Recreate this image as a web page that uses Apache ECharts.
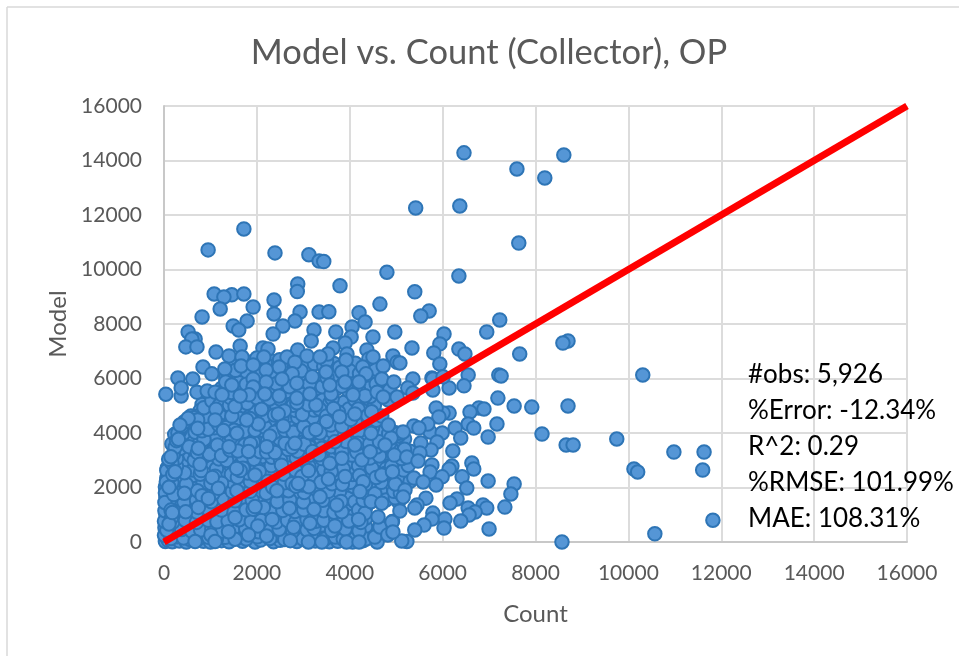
<!DOCTYPE html>
<html><head><meta charset="utf-8">
<style>html,body{margin:0;padding:0;background:#fff}#c{width:959px;height:656px}</style>
<script src="https://cdn.jsdelivr.net/npm/echarts@6/dist/echarts.min.js"></script>
</head><body><div id="c"></div>
<script>
const chartTitle = "Model vs. Count (Collector), OP";
const xAxisTitle = "Count";
const yAxisTitle = "Model";
const statLines = ["#obs: 5,926", "%Error: -12.34%", "R^2: 0.29", "%RMSE: 101.99%", "MAE: 108.31%"];
const parityLine = [[0,0],[16000,16000]];

const denseBottom = [
[30,20],[90,60],[180,10],[330,40],[480,0],[560,90],[850,30],[1000,0],[1240,50],[1400,10],[1690,30],[1960,0],[2080,70],[2360,10],[2500,60],[2860,20],[3260,40],[3560,10],[3740,30],[4060,0],[4290,50],
[10,250],[130,310],[290,190],[470,280],[700,340],[880,210],[1180,300],[1320,170],[1640,350],[1900,300],[2160,420],[2420,260],[2620,340],[2950,240],[3320,310],[3500,230],[3850,350],[4070,220],[4330,290],
[20,520],[70,820],[230,560],[360,730],[560,620],[810,580],[1050,690],[1230,540],[1480,610],[1720,720],[2200,640],[2540,680],[2660,570],[2960,530],[3390,620],[3550,730],[3820,600],[4040,670],[4340,560],
[40,1000],[310,970],[620,900],[820,1020],[1120,960],[1380,880],[1690,1040],[1850,910],[2090,1000],[2490,940],[2880,890],[3050,1010],[3340,930],[3600,1020],[3920,950],[4100,1030],[4350,880],
[60,1340],[290,1270],[600,1410],[890,1300],[1100,1210],[1320,1380],[1640,1280],[1790,1440],[2280,1420],[2510,1290],[2850,1400],[3000,1290],[3500,1350],[3850,1240],[4050,1410],[4340,1260],
[40,1640],[240,1560],[570,1620],[790,1730],[1200,1520],[1430,1680],[1720,1590],[1950,1720],[2160,1580],[2620,1630],[2920,1700],[3140,1550],[3590,1720],[3960,1610],[4110,1480],[4390,1700],[4860,1690],[5050,1480],
[30,2020],[260,1960],[640,2000],[930,1910],[1360,1990],[1730,2060],[2050,1890],[2210,2090],[2590,2020],[3280,1930],[3500,2050],[3780,1850],[4080,2040],[4420,1980],[4660,1880],[5200,2100],
[60,2350],[330,2230],[620,2440],[840,2160],[1340,2260],[1680,2240],[2150,2330],[2430,2270],[2720,2360],[3010,2220],[3330,2400],[3750,2210],[4120,2290],[4480,2190],[4840,2300],[5080,2420],
[120,2820],[420,2950],[620,2640],[1010,2930],[1290,2780],[1530,3010],[1810,2820],[2180,2980],[2440,2690],[2660,2880],[2990,2720],[3290,2920],[3440,2650],[4010,2720],[4310,2620],[4600,2890],[5020,2860],[4790,2700],
[170,3600],[480,3680],[920,3520],[1190,3310],[1600,3620],[1980,3490],[2550,3560],[2990,3390],[3260,3620],[3520,3300],[3950,3480],[4300,3380],[4750,3250],[5060,3620],[290,3250],[560,3180],[1480,3210],[2120,3130],[2700,3200],
[230,3950],[600,3890],[980,3980],[1290,3780],[1760,3930],[2050,3760],[2540,3950],[3000,3840],[3380,3780],[3900,3910],[4240,3820],[4580,3700],[4960,4020],[5180,3780],
[520,4210],[880,4290],[1450,4410],[1850,4240],[2290,4480],[2720,4300],[3040,4460],[3730,4220],[4340,4250],[4700,4150],
[950,4720],[1380,4810],[1720,4680],[2240,4790],[2700,4650],[3100,4770],[3400,4710],[3960,4350],[4290,4540],[4620,4300],
[820,5050],[1290,5120],[1660,4980],[1990,5160],[2310,5040],[2650,5180],[3010,4960],[3420,5220],[3880,5130],[4290,5090]
];
const denseMiddle = [
[150,130],[420,150],[720,90],[960,170],[1130,120],[1560,140],[1770,110],[2010,190],[2280,130],[2600,90],[2770,170],[2990,110],[3180,150],[3470,120],[3690,180],[3860,100],[4120,140],[4350,110],
[60,430],[380,460],[600,390],[790,440],[1030,480],[1260,400],[1480,430],[1760,490],[2030,380],[2300,450],[2480,470],[2770,400],[3080,440],[3230,500],[3610,420],[3900,480],[4200,400],
[10,760],[190,730],[460,790],[700,720],[950,800],[1140,740],[1380,770],[1620,820],[1880,750],[2100,800],[2420,730],[2660,790],[2830,720],[3080,830],[3270,760],[3440,800],[3700,830],[3980,770],[4240,720],
[20,1150],[230,1120],[510,1190],[710,1090],[980,1140],[1240,1170],[1510,1100],[1770,1180],[2300,1110],[2560,1160],[2820,1120],[3010,1180],[3440,1150],[3660,1090],[3830,1110],[4190,1170],[4330,1060],
[110,1500],[430,1460],[700,1530],[1020,1480],[1290,1560],[1530,1510],[1900,1530],[2440,1480],[2710,1540],[3000,1470],[3420,1530],[3810,1490],[4290,1530],[4570,1630],[4780,1540],[4980,1620],
[80,1850],[380,1820],[720,1880],[1060,1790],[1470,1850],[1860,1860],[2200,1790],[2680,1880],[3020,1820],[3540,1860],[4340,1810],[4540,1770],[4950,1860],[5090,1790],
[170,2180],[480,2120],[1010,2150],[1490,2190],[1860,2220],[2590,2170],[2980,2090],[3190,2190],[3620,2140],[4010,2190],[4340,2120],[4680,2190],[4980,2130],[5300,2230],
[90,2500],[440,2540],[780,2490],[1190,2560],[1450,2480],[1800,2530],[2290,2560],[2580,2490],[2880,2540],[3180,2470],[3700,2520],[4060,2480],[4480,2540],[4760,2510],[5160,2640],
[70,2720],[270,2780],[800,2620],[1130,2690],[1660,2850],[2000,2710],[2310,2800],[2830,2640],[3120,2780],[3700,2820],[3860,2690],[4190,2800],[4480,2700],[4900,2780],[5260,2810],
[270,3060],[650,3000],[860,3130],[1180,3050],[1350,2990],[1700,3130],[1940,3040],[2320,3110],[2510,3010],[2850,3070],[3130,3180],[3400,3060],[3690,3130],[4050,3190],[4430,3080],[4640,3160],[5120,3060],[5300,3330],
[350,3430],[640,3390],[1050,3330],[1340,3630],[1740,3560],[2070,3310],[2420,3480],[2670,3400],[2880,3330],[3130,3490],[3400,3440],[3740,3440],[4150,3300],[4580,3490],[4900,3420],[5180,3400],
[420,3980],[780,3700],[1130,3860],[1450,3850],[1920,3680],[2230,3710],[2700,3750],[2850,3930],[3180,3980],[3540,3920],[3760,3850],[4060,3780],[4390,3730],[4760,3800],[4630,4010],[5050,3900],
[350,4090],[670,4030],[1090,4190],[1640,4200],[2090,4100],[2470,4120],[2890,4120],[3480,4150],[3620,4060],[3980,4100],[4180,4050],[4490,4190],
[610,4400],[1240,4390],[1610,4540],[2040,4590],[2540,4560],[2880,4570],[3200,4560],[3630,4540],[4120,4400],[4480,4490],
[780,4830],[1190,4680],[1980,4760],[2430,4960],[2830,4830],[3230,4840],[3570,5100],[3980,4880],[4250,4850],[4530,5010],
[1130,5230],[1500,5200],[1790,5090],[2150,5090],[2500,5250],[2780,5020],[3140,5170],[3620,5260],[4110,5220],[4440,5340],
[1240,5640],[1680,5610],[2050,5540],[2330,5640],[2640,5520],[3000,5620],[3280,5640],[3720,5630],[3970,5560],[4400,5640],[4790,5690],
[1560,6050],[1780,6220],[2070,6110],[2340,6080],[2620,6230],[2950,6070],[3320,5950],[3630,6090],[4050,6050],[4490,6180],
[1490,6520],[1830,6600],[2350,6630],[2630,6480],[3050,6420],[3240,6540],[3660,6550],[4120,6560]
];
const denseExtra = [
[200,3200],[240,3480],[270,3720],[300,4000],[380,4240],[440,4410],[580,4620],[760,4640],[980,4550],[860,4930],[1030,5180],[1190,5020],[1410,5020],[1550,5420],[1320,5630],[1430,5300],
[60,2620],[50,2200],[30,1800],[20,1450],[170,2900],[100,3040],[190,2480],[210,1740],[150,1170],[160,880],
[540,3500],[720,3280],[860,3760],[980,3220],[1150,3560],[1240,3170],[1420,3380],[1590,3340],[1860,3610],[2210,3300],[2320,3640],[2490,3780],[2610,3620],[2760,3480],[3020,3590],[3200,3320],[3340,3200],[3600,3500],[3830,3320],[3920,3690],[4180,3620],[4430,3600],[4640,3680],[4860,3630],
[640,4560],[820,4080],[950,4140],[1180,4300],[1340,4200],[1510,4100],[1720,4060],[1960,4100],[2180,4210],[2380,4030],[2600,4100],[2780,4030],[3010,4230],[3130,4010],[3360,4000],[3590,4290],[3830,4240],[4020,4500],[4570,4470],[4840,3980],[5060,3990],
[1460,4620],[1850,4530],[2160,4620],[2380,4660],[2590,4810],[2980,4680],[3110,5040],[3350,4880],[3500,4620],[3760,4760],[4180,4880],[4390,4640],[4690,4620],[4890,3820],
[1330,6020],[1450,5490],[1620,5840],[1770,5790],[2000,5290],[2270,5250],[2420,5810],[2700,5700],[2960,5420],[3130,5800],[3410,5700],[3510,6030],[3830,5720],[4190,5590],[4330,5370],[4570,5800],[4860,5580],[4830,5210],
[1540,6300],[2180,6560],[2490,6690],[2810,6420],[2950,6280],[3440,6450],[3500,6640],[3780,6400],[4000,6280],[4210,6180],[4560,6350],
[820,1700],[1100,2410],[1240,2160],[1580,2380],[1700,2710],[2050,2590],[2240,2230],[2340,2010],[2760,2140],[2530,2820],[2970,2400],[3110,2620],[3380,2190],[3600,2580],[3840,2120],[4210,2440],[4570,2370],[4290,2210]
];
const denseVisible = [
[1120,4870],[1530,4970],[2100,4870],[2460,4700],[2860,5110],[3270,5030],[3650,4900],[3780,4600],[4110,4700],[3500,4420],[3270,4130],[2570,4260],[2030,4330],[1780,4480],[1100,4480],[725,4480],[520,4540],[345,4290],[725,4170],[1280,4090],[1570,3990],[2280,3890],[2820,3620],[310,3770],[740,3440],[1400,3500],[1820,3320],[2390,3280],[2210,3500],[150,3130],[775,2850],[240,2580],[1640,2620],[1960,2460],[1040,2370],[108,2010],[440,1790],[1170,1970],[1570,1880],[2430,1880],[2840,2050],[3120,2030],[3570,2890],[3830,3070],[4260,3010],[4460,3990],[4110,3560],[3680,3680],[4440,3310],[3540,2310],[3900,2400],[4220,1850],[4690,2460],[4920,2580],[4960,3190],[4760,3560],[4830,4290],[4470,4780],[3360,1660],[3720,1360],[3230,1200],[2700,1240],[2140,1270],[1920,1200],[1530,900],[2330,830],[2020,590],[2790,540],[1010,260],[670,20],[1530,100],[1820,260],[2210,220],[2720,50],[3110,0],[3400,0],[3680,590],[3930,0],[4200,0],[4190,830],[4460,1480],[4690,1420],[4920,750],[4650,590],[4540,200],[108,660],[180,1080],[467,1110],[740,1270],[955,1600],[1390,380],[1100,20],[2890,2150],[1565,2700],[1960,1300],[3145,690]
];
const upperBand = [
[3790,9400],[2880,9470],[2870,9190],[1080,9100],[1460,9070],[1290,8990],[1720,9100],[1920,8620],[2370,8880],[1210,8550],[820,8260],[2370,8370],[2930,8440],[3340,8440],[3550,8450],[4650,8730],[4200,8410],[4330,8070],[1790,8110],[1490,7930],[1610,7780],[2820,8110],[2560,7930],[2350,7630],[3230,7780],[3700,7710],[4050,7890],[4030,7520],[3900,7300],[4500,7520],[4970,7710],[520,7710],[670,7450],[600,7450],[470,7160],[710,7160],[3170,7380],[3640,7120],[1640,7190],[2130,7120],[2240,7080],[1120,6970],[1400,6830],[1680,6790],[1660,6460],[2000,6750],[2150,6790],[2880,7050],[3080,6830],[3530,6900],[2650,6790],[2820,6600],[3360,6790],[3940,6900],[3920,6680],[4370,7050],[4410,6720],[4500,6790],[4720,6460],[4930,6830],[5020,6600],[4280,6420],[3830,6240],[4350,6170],[3490,6240],[3190,6060],[2760,6170],[2480,6420],[2200,6310],[1920,6500],[840,6420],[1310,6350],[1030,6170],[300,6020],[620,5980],[1330,5870],[2200,5870],[2540,5980],[1920,5980],[2860,5830],[3900,5870],[4200,5870],[4690,5980],[4950,5870],[40,5420],[370,5360],[370,5650],[710,5500],[930,5540],[1100,5500],[1250,5400],[1460,5760],[1920,5690],[1830,5400],[1640,5360],[2170,5430],[2480,5360],[2860,5280],[3140,5430],[3600,5430],[4070,5400],[4590,5500],[4720,5320],[5020,5320],[3570,5760]
];
const rightCluster = [
[5400,9180],[5710,8480],[5530,8290],[7230,8150],[6950,7710],[6030,7630],[5940,7270],[5810,6940],[5340,7120],[6350,7080],[6480,6900],[7660,6900],[8700,7380],[8590,7300],[5940,6530],[5770,6020],[5790,5980],[5360,5980],[6550,6130],[7210,6130],[7260,6090],[6140,5650],[6460,5730],[6010,6060],[5080,6570],[7190,5280],[5790,5580],[5250,5650],[5360,5470],[7540,4990],[7920,4950],[8700,4990],[6780,4920],[6890,4880],[6590,4770],[6140,4730],[6010,4730],[5860,4920],[5920,4590],[7170,4330],[6550,4330],[6670,4180],[6270,4180],[6390,3820],[6980,3850],[8140,3960],[8660,3560],[8810,3560],[9750,3780],[5730,4040],[5680,4330],[5380,4260],[5490,4180],[5990,4000],[5880,3670],[5750,3380],[6220,3340],[5530,3630],[5510,3270],[5150,4040],[5230,3120],[5470,2970],[5770,2830],[6630,2900],[6670,2680],[6200,2790],[6140,2680],[5730,2570],[6420,2390],[5990,2390],[5380,2350],[6980,2240],[7540,2130],[7470,1760],[6520,1980],[5860,2090],[5580,2200],[5190,1910],[5150,1650],[5640,1610],[6310,1580],[6160,1430],[5450,1360],[5400,1250],[6870,1360],[6950,1250],[7340,1280],[6550,1250],[6700,1100],[6570,990],[5080,1140],[5790,1060],[6050,840],[6390,770],[5770,840],[5600,620],[5400,440],[6030,510],[7000,480],[5230,20],[5120,40],[4590,0],[4540,180],[4650,550],[4910,730],[4820,260],[4610,920],[4930,370]
];
const outliers = [
[6460,14280],[8610,14200],[7600,13690],[8200,13360],[5420,12260],[6370,12330],[1720,11490],[950,10720],[2390,10610],[3120,10540],[3340,10310],[3440,10290],[6350,9760],[4800,9900],[7640,10970],[10310,6130],[10980,3300],[11630,3300],[11600,2640],[10120,2680],[10200,2570],[8570,0],[10570,300],[11820,800]
];

const chart = echarts.init(document.getElementById('c'), null, {renderer:'canvas'});
const pointStyle = {color:'#5596d6', borderColor:'#2e75b6', borderWidth:2, opacity:1};
const scatterSeries = [denseBottom, denseMiddle, denseExtra, denseVisible, upperBand, rightCluster, outliers].map(d => ({
  type:'scatter', data:d, symbolSize:13.5, itemStyle:pointStyle, silent:true, animation:false, clip:false, z:3, large:false
}));
const font = 'Lato, Carlito, sans-serif';
const plain = v => String(v);
chart.setOption({
  animation:false,
  backgroundColor:'#ffffff',
  title:{text:chartTitle, left:484, top:30, textAlign:'center',
    textStyle:{fontFamily:font, fontSize:34.5, fontWeight:'normal', color:'#595959'}},
  grid:{left:164, top:106, width:743, height:436},
  xAxis:{type:'value', min:0, max:16000, interval:2000, name:xAxisTitle, nameLocation:'middle', nameGap:60,
    nameTextStyle:{fontFamily:font, fontSize:24, color:'#595959'},
    axisLine:{show:true, onZero:false, lineStyle:{color:'#c8c8c8', width:2}},
    axisTick:{show:false},
    axisLabel:{fontFamily:font, fontSize:21, color:'#595959', margin:21, formatter:plain},
    splitLine:{show:true, lineStyle:{color:'#dcdcdc', width:2}}},
  yAxis:{type:'value', min:0, max:16000, interval:2000, name:yAxisTitle, nameLocation:'middle', nameGap:93,
    nameTextStyle:{fontFamily:font, fontSize:24, color:'#595959'},
    axisLine:{show:true, onZero:false, lineStyle:{color:'#c8c8c8', width:2}},
    axisTick:{show:false},
    axisLabel:{fontFamily:font, fontSize:21, color:'#595959', margin:22, formatter:plain},
    splitLine:{show:true, lineStyle:{color:'#dcdcdc', width:2}}},
  series: scatterSeries.concat([{
    type:'line', data:parityLine, symbol:'none', silent:true, animation:false, z:5,
    lineStyle:{color:'#ff0000', width:7, cap:'butt'}
  }]),
  graphic:[
    {type:'line', shape:{x1:7,y1:7,x2:959,y2:7}, style:{stroke:'#d9d9d9', lineWidth:1.5}, silent:true},
    {type:'line', shape:{x1:7,y1:7,x2:7,y2:656}, style:{stroke:'#d9d9d9', lineWidth:1.5}, silent:true}
  ].concat(statLines.map((t,i)=>({
    type:'text', left:748, top:362+i*35.8, z:10, silent:true,
    style:{text:t, fontFamily:font, fontSize:26, fill:'#000000'}
  })))
});
</script></body></html>
